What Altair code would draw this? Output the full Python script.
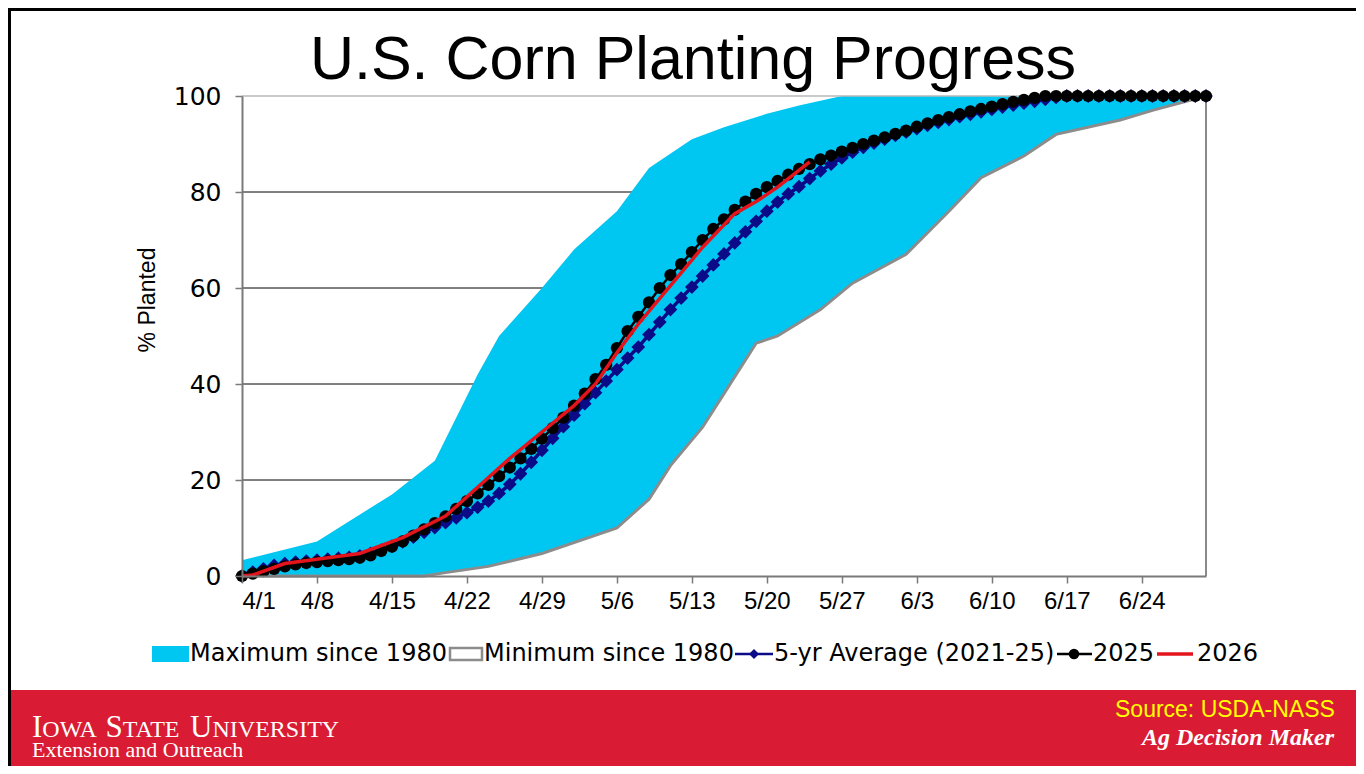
import altair as alt
import pandas as pd

# ---------------- data ----------------
# x = days after April 1 (0 = 4/1, 90 = 6/30)
TICK_DAYS = [0, 7, 14, 21, 28, 35, 42, 49, 56, 63, 70, 77, 84]
TICK_LABELS = ["4/1", "4/8", "4/15", "4/22", "4/29", "5/6", "5/13", "5/20",
               "5/27", "6/3", "6/10", "6/17", "6/24"]
Y_TICKS = [0, 20, 40, 60, 80, 100]
GRID_VALUES = [20, 40, 60, 80]

MAX_DAYS = [0, 7, 14, 18, 22, 24, 28, 31, 35, 38, 42, 45, 49, 52, 56, 90]
MAX_VALS = [3.3, 7.2, 17, 24, 42, 50, 60, 68, 76, 85, 91, 93.5, 96.3, 98, 100, 100]

MIN_DAYS = [0, 17, 19, 23, 28, 35, 38, 40, 43, 45, 48, 50, 54, 57, 62, 66, 69, 73, 76, 82, 85, 90]
MIN_VALS = [0, 0, 0.7, 2, 4.7, 10, 16, 23, 31, 38, 48.5, 50, 55.5, 61, 67, 76, 83, 87.5, 92, 95, 97, 100]

DAYS = list(range(91))
AVG5 = [0, 0.8, 1.5, 2.2, 2.6, 2.9, 3.1, 3.3, 3.5, 3.7,
        3.9, 4.2, 4.7, 5.4, 6.2, 7.1, 8.1, 9.1, 10.1, 11.1,
        12.1, 13.2, 14.3, 15.6, 17.2, 19.1, 21.3, 23.7, 26.2, 28.7,
        31.1, 33.5, 35.9, 38.2, 40.6, 43.0, 45.4, 47.7, 50.3, 52.9,
        55.5, 57.9, 60.2, 62.5, 64.8, 67.1, 69.4, 71.7, 73.9, 76.0,
        77.9, 79.6, 81.1, 82.8, 84.4, 85.8, 87.1, 88.3, 89.3, 90.2,
        91.0, 91.8, 92.5, 93.2, 93.9, 94.5, 95.1, 95.7, 96.2, 96.7,
        97.2, 97.7, 98.1, 98.5, 98.9, 99.3, 99.7, 100, 100, 100,
        100, 100, 100, 100, 100, 100, 100, 100, 100, 100,
        100]
Y2025 = [0, 0.5, 1.0, 1.5, 2.0, 2.4, 2.7, 2.9, 3.1, 3.3,
         3.5, 3.8, 4.3, 5.2, 6.1, 7.2, 8.4, 9.7, 11.0, 12.4,
         14.0, 15.6, 17.2, 19.0, 20.8, 22.6, 24.5, 26.5, 28.6, 30.8,
         33.0, 35.5, 38.0, 41.0, 44.0, 47.5, 51.0, 54.0, 57.0, 60.0,
         62.7, 65.0, 67.5, 70.0, 72.3, 74.3, 76.3, 78.0, 79.6, 81.0,
         82.3, 83.6, 84.8, 85.8, 86.8, 87.6, 88.4, 89.2, 90.0, 90.7,
         91.4, 92.1, 92.8, 93.6, 94.3, 95.0, 95.6, 96.2, 96.8, 97.3,
         97.8, 98.3, 98.8, 99.2, 99.6, 100, 100, 100, 100, 100,
         100, 100, 100, 100, 100, 100, 100, 100, 100, 100,
         100]
DAYS_2026 = [0, 1, 4, 11, 15, 19, 22, 25, 28, 31, 33, 35, 37, 40, 43, 46, 48, 50, 53]
VALS_2026 = [0, 0.2, 2.6, 4.7, 8.0, 12.5, 18.5, 24.5, 30.0, 35.5, 40.0, 46.5, 52.5,
             60.5, 68.5, 75.5, 78.0, 81.0, 86.3]

TITLE = "U.S. Corn Planting Progress"
Y_TITLE = "% Planted"
LEGEND = ["Maximum since 1980", "Minimum since 1980", "5-yr Average (2021-25)", "2025", "2026"]

# ---------------- styling ----------------
CYAN = "#00C6F2"
GRAY = "#8C8C8C"
NAVY = "#0B0B88"
RED = "#E3141C"
FOOT = "#D91C33"

df_max = pd.DataFrame({"day": MAX_DAYS, "v": MAX_VALS})
df_min = pd.DataFrame({"day": MIN_DAYS, "v": MIN_VALS})
df_avg = pd.DataFrame({"day": DAYS, "v": AVG5})
df_25 = pd.DataFrame({"day": DAYS, "v": Y2025})
df_26 = pd.DataFrame({"day": DAYS_2026, "v": VALS_2026})
df_grid = pd.DataFrame({"v": GRID_VALUES})

label_expr = "[" + ",".join("'%s'" % s for s in TICK_LABELS) + "][round(datum.value / 7)]"

X = alt.X("day:Q",
          scale=alt.Scale(domain=[0, 90], nice=False, zero=False),
          axis=alt.Axis(values=TICK_DAYS, labelExpr=label_expr, title=None, grid=False,
                        labelFont="Liberation Sans", labelFontSize=24,
                        labelColor="black", labelPadding=6, tickColor="#7A7A7A", tickSize=7,
                        tickWidth=1.5, domainColor="#7A7A7A", domainWidth=2, zindex=1,
                        labelOverlap=False))
Y = alt.Y("v:Q",
          scale=alt.Scale(domain=[0, 100], nice=False),
          axis=alt.Axis(values=Y_TICKS, title=None, grid=False,
                        labelFont="DejaVu Sans", labelFontSize=25, labelColor="black",
                        labelPadding=14, tickColor="#7A7A7A", tickSize=7, tickWidth=1.5,
                        domainColor="#7A7A7A", domainWidth=2, zindex=1))

grid = alt.Chart(df_grid).mark_rule(color="black", strokeWidth=1).encode(y=Y)
area_max = alt.Chart(df_max).mark_area(color=CYAN, opacity=1).encode(x=X, y=Y)
area_min = alt.Chart(df_min).mark_area(color="white", opacity=1).encode(x=X, y=Y)
line_min = alt.Chart(df_min).mark_line(color=GRAY, strokeWidth=3).encode(x=X, y=Y)
frame_top = alt.Chart(pd.DataFrame({"v": [100]})).mark_rule(color="#B8B8B8", strokeWidth=1.5).encode(y=Y)
frame_right = alt.Chart(pd.DataFrame({"day": [90]})).mark_rule(color="#8A8A8A", strokeWidth=2).encode(x=X)
line_avg = alt.Chart(df_avg).mark_line(
    color=NAVY, strokeWidth=3.5,
    point=alt.OverlayMarkDef(shape="diamond", size=190, filled=True, color=NAVY, opacity=1)
).encode(x=X, y=Y)
line_25 = alt.Chart(df_25).mark_line(
    color="black", strokeWidth=2.5,
    point=alt.OverlayMarkDef(shape="circle", size=150, filled=True, color="black", opacity=1)
).encode(x=X, y=Y)
line_26 = alt.Chart(df_26).mark_line(color=RED, strokeWidth=3.5).encode(x=X, y=Y)

# ---------------- decorations (plot-area pixel coords) ----------------
dummy = alt.Data(values=[{"a": 1}])


def txt(s, x, y, size, font="Liberation Sans", color="black", align="left",
        baseline="alphabetic", weight="normal", style="normal", angle=0):
    return alt.Chart(dummy).mark_text(
        text=s, align=align, baseline=baseline, font=font, fontSize=size,
        fontWeight=weight, fontStyle=style, color=color, angle=angle
    ).encode(x=alt.value(x), y=alt.value(y))


def box(x1, x2, y1, y2, fill, stroke=None, sw=0):
    kw = dict(fill=fill, opacity=1)
    if stroke is not None:
        kw.update(stroke=stroke, strokeWidth=sw)
    return alt.Chart(dummy).mark_rect(**kw).encode(
        x=alt.value(x1), x2=alt.value(x2), y=alt.value(y1), y2=alt.value(y2))


def seg(x1, x2, y, color, width):
    return alt.Chart(dummy).mark_rule(color=color, strokeWidth=width).encode(
        x=alt.value(x1), x2=alt.value(x2), y=alt.value(y))


def sym(x, y, shape, color, size):
    return alt.Chart(dummy).mark_point(shape=shape, filled=True, color=color,
                                       size=size, opacity=1).encode(
        x=alt.value(x), y=alt.value(y))


LY = 558
LF = "DejaVu Sans"
LS = 24
deco = [
    txt(TITLE, 451, -17, 61, align="center"),
    txt(Y_TITLE, -94, 204, 23, align="center", baseline="middle", angle=270),
    # legend
    box(-90, -53, 550, 566, CYAN),
    txt(LEGEND[0], -52, LY, LS, font=LF, baseline="middle"),
    box(208, 240, 552, 564, "white", stroke=GRAY, sw=2.5),
    txt(LEGEND[1], 242, LY, LS, font=LF, baseline="middle"),
    seg(493, 531, LY, NAVY, 2.5),
    sym(512, LY, "diamond", NAVY, 100),
    txt(LEGEND[2], 532, LY, LS, font=LF, baseline="middle"),
    seg(815, 850, LY, "black", 2.5),
    sym(832, LY, "circle", "black", 110),
    txt(LEGEND[3], 851, LY, LS, font=LF, baseline="middle"),
    seg(915, 951, LY, RED, 3.5),
    txt(LEGEND[4], 955, LY, LS, font=LF, baseline="middle"),
    # footer
    box(-234, 1114, 594, 670, FOOT),
    txt("Source: USDA-NASS", 873, 621, 23, color="#FFFF00"),
    txt("Ag Decision Maker", 900, 649, 24, font="Liberation Serif", color="white",
        weight="bold", style="italic"),
    txt("I", -210, 641, 31, font="Liberation Serif", color="white"),
    txt("OWA", -199.7, 641, 24, font="Liberation Serif", color="white"),
    txt("S", -136.4, 641, 31, font="Liberation Serif", color="white"),
    txt("TATE", -119.2, 641, 24, font="Liberation Serif", color="white"),
    txt("U", -51.9, 641, 31, font="Liberation Serif", color="white"),
    txt("NIVERSITY", -29.5, 641, 24, font="Liberation Serif", color="white"),
    txt("Extension and Outreach", -210, 661, 22, font="Liberation Serif", color="white"),
    # slide border
    box(-234, -231, -88, 670, "black"),
    box(-234, 1114, -88, -85, "black"),
]

chart = alt.layer(
    grid, area_max, area_min, line_min, frame_top, frame_right,
    line_avg, line_25, line_26, *deco
).properties(
    width=964, height=480,
    padding={"left": 234, "top": 88, "right": 150, "bottom": 190},
    autosize=alt.AutoSizeParams(type="none"),
    background="white",
).configure_view(stroke=None)

chart.save("out.html", embed_options={"renderer": "svg", "actions": False})
